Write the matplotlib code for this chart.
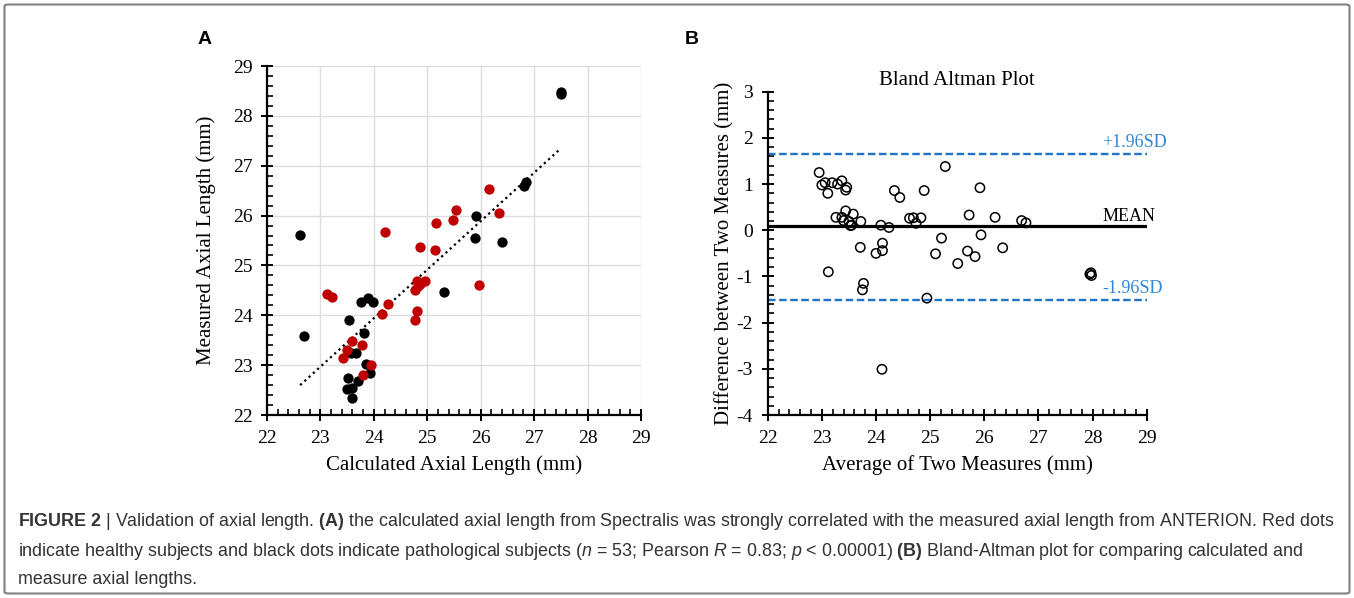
import matplotlib
matplotlib.use("Agg")
import matplotlib.pyplot as plt
import numpy as np
from matplotlib.patches import FancyBboxPatch
from matplotlib.ticker import MultipleLocator

# Panel A: calculated vs measured axial length (mm)
HEALTHY_X = [23.13, 23.22, 24.21, 24.15, 24.27, 23.42, 23.49, 23.60, 23.77, 23.79,
             23.94, 24.77, 24.81, 24.77, 24.83, 24.81, 24.95, 24.86, 25.14, 25.17,
             25.48, 25.54, 25.97, 26.16, 26.34, 24.87]
HEALTHY_Y = [24.42, 24.36, 25.67, 24.03, 24.23, 23.15, 23.30, 23.48, 23.40, 22.80,
             23.00, 23.91, 24.09, 24.51, 24.59, 24.69, 24.69, 25.36, 25.31, 25.86,
             25.92, 26.12, 24.61, 26.54, 26.06, 24.62]
PATHO_X = [22.62, 22.69, 23.54, 23.76, 23.89, 23.99, 23.82, 23.52, 23.50, 23.59,
           23.59, 23.70, 23.86, 23.92, 23.67, 23.58, 25.31, 25.91, 25.89, 26.39,
           26.81, 26.84, 27.50, 27.50]
PATHO_Y = [25.62, 23.58, 23.90, 24.26, 24.35, 24.26, 23.64, 22.74, 22.53, 22.55,
           22.35, 22.68, 23.02, 22.84, 23.25, 23.24, 24.46, 26.00, 25.56, 25.46,
           26.59, 26.67, 28.43, 28.47]

# Panel B: Bland-Altman (average, difference)
BA_AVG = [22.95, 23.00, 23.06, 23.11, 23.19, 23.29, 23.37, 23.44, 23.46, 23.12,
          23.26, 23.37, 23.44, 23.40, 23.50, 23.53, 23.58, 23.55, 23.72, 23.71,
          23.77, 23.75, 24.00, 24.09, 24.12, 24.12, 24.24, 24.11, 24.34, 24.44,
          24.62, 24.69, 24.74, 24.83, 24.89, 24.94, 25.10, 25.21, 25.28, 25.51,
          25.69, 25.72, 25.83, 25.92, 25.94, 26.20, 26.34, 26.69, 26.77, 27.95,
          27.98, 27.97]
BA_DIFF = [1.25, 0.98, 1.03, 0.80, 1.03, 1.00, 1.07, 0.87, 0.93, -0.90,
           0.28, 0.28, 0.42, 0.21, 0.19, 0.10, 0.35, 0.11, 0.19, -0.37,
           -1.15, -1.29, -0.50, 0.11, -0.28, -0.44, 0.06, -3.01, 0.86, 0.71,
           0.26, 0.27, 0.15, 0.27, 0.86, -1.47, -0.51, -0.17, 1.38, -0.72,
           -0.45, 0.33, -0.57, 0.92, -0.10, 0.28, -0.38, 0.21, 0.16, -0.95,
           -0.98, -0.92]
BA_MEAN = 0.085
BA_UPPER = 1.65
BA_LOWER = -1.50

CAPTION = [
    r"$\mathbf{FIGURE\ 2}$ | Validation of axial length. $\mathbf{(A)}$ the calculated axial length "
    r"from Spectralis was strongly correlated with the measured axial length from ANTERION. Red dots",
    r"indicate healthy subjects and black dots indicate pathological subjects ($\mathit{n}$ = 53; "
    r"Pearson $\mathit{R}$ = 0.83; $\mathit{p}$ < 0.00001) $\mathbf{(B)}$ Bland-Altman plot for "
    r"comparing calculated and",
    "measure axial lengths.",
]

RED = "#c00000"
BLUE = "#1f73c9"
BLUE_TXT = "#2e86d4"
SERIF = "Liberation Serif"

plt.rcParams["font.family"] = SERIF
plt.rcParams["xtick.labelsize"] = 14
plt.rcParams["ytick.labelsize"] = 14
plt.rcParams["mathtext.fontset"] = "custom"
plt.rcParams["mathtext.rm"] = "Liberation Sans"
plt.rcParams["mathtext.bf"] = "Liberation Sans:bold"
plt.rcParams["mathtext.it"] = "Liberation Sans:italic"
plt.rcParams["axes.unicode_minus"] = False

fig = plt.figure(figsize=(13.54, 5.98), dpi=100)
W, H = 1354, 598


def px_axes(left, top, right, bottom):
    return fig.add_axes([left / W, 1 - bottom / H, (right - left) / W, (bottom - top) / H])


def style_axis(ax):
    for side in ("top", "right"):
        ax.spines[side].set_visible(False)
    for side in ("left", "bottom"):
        ax.spines[side].set_linewidth(1.6)
    ax.xaxis.set_major_locator(MultipleLocator(1))
    ax.yaxis.set_major_locator(MultipleLocator(1))
    ax.xaxis.set_minor_locator(MultipleLocator(0.2))
    ax.yaxis.set_minor_locator(MultipleLocator(0.2))
    ax.tick_params(which="major", direction="inout", length=9, width=1.4, pad=6)
    ax.tick_params(which="minor", direction="in", length=4, width=1.2)


# ---- Panel A ----
axA = px_axes(267, 66, 641, 415)
axA.set_xlim(22, 29)
axA.set_ylim(22, 29)
axA.grid(True, which="major", color="#dcdcdc", linewidth=1.0)
axA.set_axisbelow(True)
axA.scatter(PATHO_X, PATHO_Y, s=55, color="black", zorder=3, linewidths=0)
axA.scatter(HEALTHY_X, HEALTHY_Y, s=55, color=RED, zorder=3, linewidths=0)

all_x = np.array(HEALTHY_X + PATHO_X)
all_y = np.array(HEALTHY_Y + PATHO_Y)
slope, intercept = np.polyfit(all_x, all_y, 1)
xs = np.array([all_x.min(), all_x.max()])
axA.plot(xs, slope * xs + intercept, color="black", linestyle=(0, (1, 1.6)), linewidth=1.6, zorder=2)
style_axis(axA)
axA.set_xlabel("Calculated Axial Length (mm)", fontsize=15, labelpad=6)
axA.set_ylabel("Measured Axial Length (mm)", fontsize=15, labelpad=12)

# ---- Panel B ----
axB = px_axes(767.7, 91.7, 1146.7, 415)
axB.set_xlim(22, 29)
axB.set_ylim(-4, 3)
axB.scatter(BA_AVG, BA_DIFF, s=45, facecolors="none", edgecolors="black", linewidths=1.1, zorder=3)
axB.plot([22, 29], [BA_MEAN, BA_MEAN], color="black", linewidth=2.3, solid_capstyle="butt", zorder=2)
for val in (BA_UPPER, BA_LOWER):
    axB.plot([22, 29], [val, val], color=BLUE, linewidth=1.7, linestyle=(0, (3.2, 1.5)), zorder=2)
axB.text(29.37, 1.89, "+1.96SD", color=BLUE_TXT, fontsize=13, ha="right", va="center", clip_on=False)
axB.text(29.16, 0.295, "MEAN", color="black", fontsize=13, ha="right", va="center", clip_on=False)
axB.text(29.30, -1.27, "-1.96SD", color=BLUE_TXT, fontsize=13, ha="right", va="center", clip_on=False)
style_axis(axB)
axB.set_title("Bland Altman Plot", fontsize=15, pad=4.5)
axB.set_xlabel("Average of Two Measures (mm)", fontsize=15, labelpad=6)
axB.set_ylabel("Difference between Two Measures (mm)", fontsize=15, labelpad=1.5)

# panel letters
fig.text(205 / W, 1 - 40 / H, "A", fontfamily="Liberation Sans", fontweight="bold", fontsize=14,
         ha="center", va="center")
fig.text(692 / W, 1 - 40 / H, "B", fontfamily="Liberation Sans", fontweight="bold", fontsize=14,
         ha="center", va="center")

# caption
cap_y = [521, 551, 580]
for line, y in zip(CAPTION, cap_y):
    fig.text(18 / W, 1 - y / H, line, fontfamily="Liberation Sans", fontsize=12.9, color="#333333",
             ha="left", va="center")

# frame around the figure
frame = FancyBboxPatch((4.5 / W, 4.5 / H), (W - 9) / W, (H - 9) / H,
                       boxstyle="round,pad=0,rounding_size=0.003", transform=fig.transFigure,
                       facecolor="none", edgecolor="#808080", linewidth=1.5)
fig.patches.append(frame)

fig.savefig("out.png", dpi=100)
